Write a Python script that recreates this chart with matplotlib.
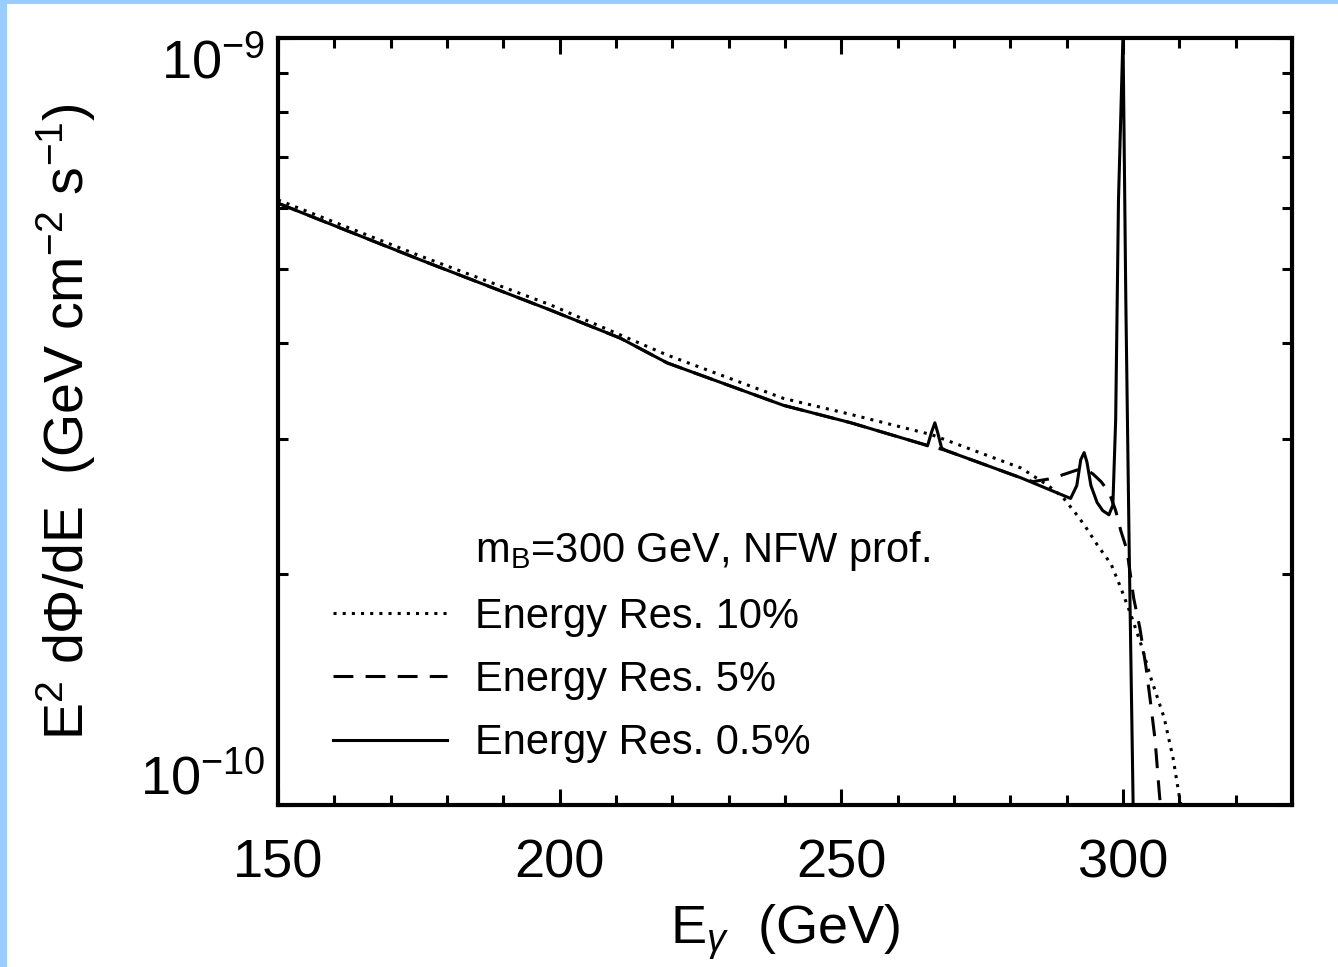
import numpy as np
import matplotlib
matplotlib.use('Agg')
import matplotlib.pyplot as plt
from matplotlib.patches import Rectangle
from matplotlib.lines import Line2D
from matplotlib.ticker import FixedLocator, MultipleLocator, LogLocator, NullFormatter

plt.rcParams['font.family'] = ['Liberation Sans', 'DejaVu Sans']
plt.rcParams['mathtext.fontset'] = 'custom'
plt.rcParams['mathtext.rm'] = 'Liberation Sans'
plt.rcParams['mathtext.it'] = 'Liberation Sans:italic'
plt.rcParams['mathtext.bf'] = 'Liberation Sans:bold'

# energy resolution 0.5% (solid)
e_solid = [150.0, 175.2, 198.3, 210.8, 219.1, 239.7, 251.7, 264.1, 265.3, 266.0,
           266.6, 267.1, 267.8, 268.5, 281.9, 290.7, 291.8, 292.5, 293.1, 293.6,
           294.3, 295.4, 296.4, 297.5, 298.2, 298.7, 299.2, 300.0, 300.5, 301.1,
           301.8, 302.2]
f_solid = [6.09, 5.14, 4.42, 4.06, 3.77, 3.32, 3.15, 2.96, 2.94, 3.06,
           3.15, 3.06, 2.92, 2.90, 2.67, 2.51, 2.61, 2.82, 2.88, 2.80,
           2.61, 2.48, 2.42, 2.39, 2.46, 3.18, 6.15, 10.1, 4.55, 2.15,
           1.0, 0.9]

# energy resolution 5% (dashed)
e_dash = [150.0, 175.2, 198.3, 210.8, 219.1, 239.7, 251.7, 264.1, 268.5, 281.9,
          284.0, 286.7, 289.0, 291.6, 293.1, 294.7, 296.1, 297.5, 298.7, 299.6,
          300.7, 301.9, 303.0, 304.1, 305.0, 305.7, 306.4, 306.8]
f_dash = [6.09, 5.14, 4.42, 4.06, 3.77, 3.32, 3.15, 2.96, 2.90, 2.67,
          2.64, 2.66, 2.69, 2.73, 2.75, 2.70, 2.64, 2.56, 2.42, 2.28,
          2.15, 1.86, 1.70, 1.51, 1.34, 1.215, 1.046, 0.97]

# energy resolution 10% (dotted)
e_dot = [150.0, 175.2, 198.3, 219.1, 239.7, 251.7, 266.0, 281.9, 286.7, 289.3,
         291.6, 293.1, 295.5, 297.9, 299.6, 301.4, 303.2, 305.0, 307.3, 308.9,
         310.1, 310.8]
f_dot = [6.15, 5.20, 4.49, 3.86, 3.39, 3.23, 3.04, 2.75, 2.61, 2.52,
         2.40, 2.32, 2.18, 2.06, 1.92, 1.77, 1.62, 1.46, 1.30, 1.15,
         1.015, 0.96]

scale = 1e-10

W, H = 1338, 967
fig = plt.figure(figsize=(W / 100, H / 100), dpi=100, facecolor='#99ccff')
fig.add_artist(Rectangle((7 / W, 0), 1, 1 - 4 / H, transform=fig.transFigure,
                         facecolor='white', edgecolor='none', zorder=-10))

ax = fig.add_axes([278 / W, 1 - 805 / H, (1292 - 278) / W, (805 - 38) / H])

lw = 2.2
l_dot, = ax.plot(e_dot, np.array(f_dot) * scale, color='black', lw=lw,
                 linestyle=(0, (1, 2)))
l_dash, = ax.plot(e_dash, np.array(f_dash) * scale, color='black', lw=lw,
                  linestyle=(0, (6.5, 4)))
l_solid, = ax.plot(e_solid, np.array(f_solid) * scale, color='black', lw=lw)

ax.set_yscale('log')
ax.set_xlim(150, 330)
ax.set_ylim(1e-10, 1e-9)

ax.xaxis.set_major_locator(MultipleLocator(50))
ax.xaxis.set_minor_locator(MultipleLocator(10))
ax.yaxis.set_major_locator(FixedLocator([1e-10, 1e-9]))
ax.yaxis.set_minor_locator(LogLocator(base=10, subs=np.arange(2, 10)))
ax.yaxis.set_minor_formatter(NullFormatter())

for s in ax.spines.values():
    s.set_linewidth(3)
ax.tick_params(which='both', direction='in', top=True, right=True, width=2.2)
ax.tick_params(which='major', length=11.5, labelsize=39)
ax.tick_params(which='minor', length=7)
ax.tick_params(axis='x', which='major', pad=24)
ax.tick_params(axis='y', which='major', pad=9)

yt = ax.yaxis.get_major_ticks()
yt[0].label1.set_va('bottom')
yt[1].label1.set_va('top')

ax.set_xlabel(r'E$_\gamma$  (GeV)', fontsize=39, labelpad=10)
ax.set_ylabel(r'E$^2$ d$\Phi$/dE  (GeV cm$^{-2}$ s$^{-1}$)', fontsize=40)
ax.yaxis.set_label_coords(-0.178, 0.5)

blank = Line2D([], [], linestyle='none')
ax.legend([blank, l_dot, l_dash, l_solid],
          [r'm$_{\rm B}$=300 GeV, NFW prof.', 'Energy Res. 10%',
           'Energy Res. 5%', 'Energy Res. 0.5%'],
          loc='center left', bbox_to_anchor=(0.054, 0.207), frameon=False,
          fontsize=30, handlelength=2.75, handletextpad=0.67,
          labelspacing=0.56, borderpad=0, borderaxespad=0)

fig.savefig('out.png', dpi=100, facecolor=fig.get_facecolor())
